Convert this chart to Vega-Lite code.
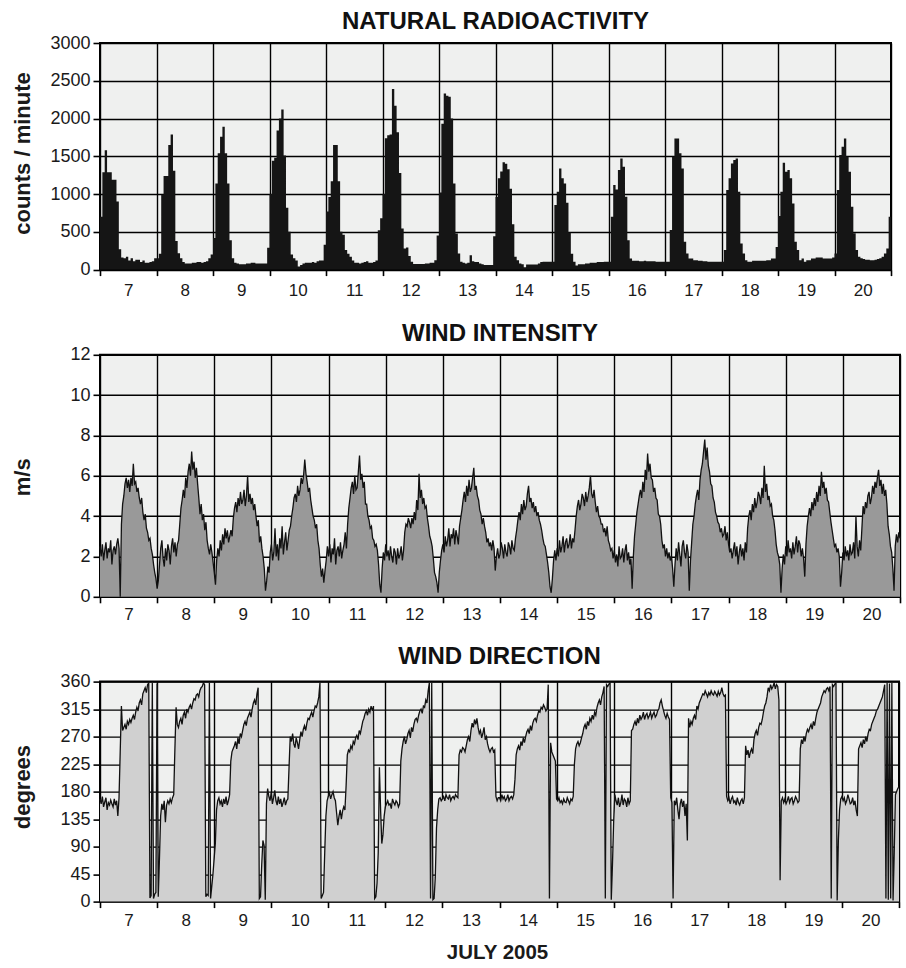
{
 "$schema": "https://vega.github.io/schema/vega-lite/v6.json",
 "background": "#ffffff",
 "padding": {"left": 10, "top": 9, "right": 5, "bottom": 5},
 "spacing": 84.8,
 "bounds": "flush",
 "config": {
  "font": "Liberation Sans",
  "view": {"fill": "#eff0ef", "stroke": "#000000", "strokeWidth": 2},
  "axis": {"domain": false, "grid": true, "gridColor": "#000000", "gridWidth": 1.4, "gridOpacity": 1, "tickColor": "#000000", "tickWidth": 1.6, "labelColor": "#1a1a1a", "labelFont": "Liberation Sans", "titleFont": "Liberation Sans", "titleColor": "#1a1a1a", "titleFontWeight": "bold", "titleFontSize": 22},
  "axisX": {"tickSize": 6, "labelFontSize": 17, "labelFlush": false, "labelOverlap": false},
  "axisY": {"tickSize": 7, "labelFontSize": 18, "labelPadding": 3, "labelFlush": false, "labelOverlap": false},
  "title": {"font": "Liberation Sans", "fontSize": 24, "fontWeight": "bold", "color": "#111111", "anchor": "middle", "frame": "group", "baseline": "alphabetic"}
 },
 "datasets": {
  "rad": [
{"h":0,"r":700},{"h":1,"r":1290},{"h":2,"r":1580},{"h":3,"r":1290},{"h":4,"r":1290},{"h":5,"r":1190},{"h":6,"r":1190},{"h":7,"r":900},{"h":8,"r":270},{"h":9,"r":160},{"h":10,"r":150},{"h":11,"r":170},{"h":12,"r":120},{"h":13,"r":150},{"h":14,"r":110},{"h":15,"r":130},{"h":16,"r":130},{"h":17,"r":100},{"h":18,"r":120},{"h":19,"r":90},{"h":20,"r":90},{"h":21,"r":100},{"h":22,"r":110},{"h":23,"r":150},
{"h":24,"r":150},{"h":25,"r":210},{"h":26,"r":990},{"h":27,"r":1240},{"h":28,"r":1240},{"h":29,"r":1650},{"h":30,"r":1790},{"h":31,"r":1310},{"h":32,"r":380},{"h":33,"r":215},{"h":34,"r":150},{"h":35,"r":100},{"h":36,"r":80},{"h":37,"r":80},{"h":38,"r":80},{"h":39,"r":90},{"h":40,"r":90},{"h":41,"r":100},{"h":42,"r":100},{"h":43,"r":90},{"h":44,"r":100},{"h":45,"r":110},{"h":46,"r":150},{"h":47,"r":200},
{"h":48,"r":420},{"h":49,"r":1140},{"h":50,"r":1540},{"h":51,"r":1760},{"h":52,"r":1890},{"h":53,"r":1540},{"h":54,"r":1140},{"h":55,"r":390},{"h":56,"r":150},{"h":57,"r":90},{"h":58,"r":80},{"h":59,"r":70},{"h":60,"r":70},{"h":61,"r":70},{"h":62,"r":80},{"h":63,"r":80},{"h":64,"r":90},{"h":65,"r":90},{"h":66,"r":80},{"h":67,"r":80},{"h":68,"r":80},{"h":69,"r":80},{"h":70,"r":80},{"h":71,"r":290},
{"h":72,"r":1000},{"h":73,"r":1440},{"h":74,"r":1480},{"h":75,"r":1840},{"h":76,"r":2000},{"h":77,"r":2120},{"h":78,"r":1510},{"h":79,"r":820},{"h":80,"r":500},{"h":81,"r":200},{"h":82,"r":150},{"h":83,"r":120},{"h":84,"r":40},{"h":85,"r":60},{"h":86,"r":80},{"h":87,"r":90},{"h":88,"r":90},{"h":89,"r":90},{"h":90,"r":100},{"h":91,"r":90},{"h":92,"r":110},{"h":93,"r":120},{"h":94,"r":120},{"h":95,"r":330},
{"h":96,"r":770},{"h":97,"r":960},{"h":98,"r":1170},{"h":99,"r":1650},{"h":100,"r":1650},{"h":101,"r":1170},{"h":102,"r":500},{"h":103,"r":460},{"h":104,"r":260},{"h":105,"r":210},{"h":106,"r":170},{"h":107,"r":120},{"h":108,"r":90},{"h":109,"r":90},{"h":110,"r":80},{"h":111,"r":90},{"h":112,"r":100},{"h":113,"r":110},{"h":114,"r":90},{"h":115,"r":90},{"h":116,"r":100},{"h":117,"r":120},{"h":118,"r":520},{"h":119,"r":680},
{"h":120,"r":1000},{"h":121,"r":1740},{"h":122,"r":1780},{"h":123,"r":1790},{"h":124,"r":2390},{"h":125,"r":2170},{"h":126,"r":1820},{"h":127,"r":1280},{"h":128,"r":545},{"h":129,"r":280},{"h":130,"r":294},{"h":131,"r":180},{"h":132,"r":104},{"h":133,"r":73},{"h":134,"r":73},{"h":135,"r":73},{"h":136,"r":73},{"h":137,"r":73},{"h":138,"r":80},{"h":139,"r":80},{"h":140,"r":90},{"h":141,"r":90},{"h":142,"r":125},{"h":143,"r":450},
{"h":144,"r":1020},{"h":145,"r":1930},{"h":146,"r":2330},{"h":147,"r":2300},{"h":148,"r":2290},{"h":149,"r":2002},{"h":150,"r":1141},{"h":151,"r":479},{"h":152,"r":214},{"h":153,"r":104},{"h":154,"r":90},{"h":155,"r":80},{"h":156,"r":90},{"h":157,"r":190},{"h":158,"r":110},{"h":159,"r":100},{"h":160,"r":100},{"h":161,"r":80},{"h":162,"r":70},{"h":163,"r":60},{"h":164,"r":60},{"h":165,"r":60},{"h":166,"r":60},{"h":167,"r":440},
{"h":168,"r":960},{"h":169,"r":1210},{"h":170,"r":1300},{"h":171,"r":1420},{"h":172,"r":1400},{"h":173,"r":1330},{"h":174,"r":1070},{"h":175,"r":600},{"h":176,"r":170},{"h":177,"r":125},{"h":178,"r":81},{"h":179,"r":72},{"h":180,"r":30},{"h":181,"r":68},{"h":182,"r":68},{"h":183,"r":68},{"h":184,"r":68},{"h":185,"r":68},{"h":186,"r":80},{"h":187,"r":100},{"h":188,"r":104},{"h":189,"r":104},{"h":190,"r":104},{"h":191,"r":104},
{"h":192,"r":104},{"h":193,"r":854},{"h":194,"r":1030},{"h":195,"r":1340},{"h":196,"r":1208},{"h":197,"r":1141},{"h":198,"r":885},{"h":199,"r":490},{"h":200,"r":210},{"h":201,"r":104},{"h":202,"r":55},{"h":203,"r":70},{"h":204,"r":70},{"h":205,"r":70},{"h":206,"r":80},{"h":207,"r":80},{"h":208,"r":90},{"h":209,"r":90},{"h":210,"r":90},{"h":211,"r":100},{"h":212,"r":100},{"h":213,"r":100},{"h":214,"r":104},{"h":215,"r":104},
{"h":216,"r":104},{"h":217,"r":700},{"h":218,"r":1120},{"h":219,"r":1060},{"h":220,"r":1318},{"h":221,"r":1472},{"h":222,"r":1362},{"h":223,"r":965},{"h":224,"r":390},{"h":225,"r":148},{"h":226,"r":117},{"h":227,"r":117},{"h":228,"r":117},{"h":229,"r":110},{"h":230,"r":110},{"h":231,"r":117},{"h":232,"r":110},{"h":233,"r":110},{"h":234,"r":110},{"h":235,"r":110},{"h":236,"r":104},{"h":237,"r":104},{"h":238,"r":104},{"h":239,"r":104},
{"h":240,"r":104},{"h":241,"r":104},{"h":242,"r":523},{"h":243,"r":1494},{"h":244,"r":1737},{"h":245,"r":1737},{"h":246,"r":1540},{"h":247,"r":1340},{"h":248,"r":368},{"h":249,"r":214},{"h":250,"r":148},{"h":251,"r":148},{"h":252,"r":125},{"h":253,"r":125},{"h":254,"r":117},{"h":255,"r":117},{"h":256,"r":110},{"h":257,"r":110},{"h":258,"r":104},{"h":259,"r":104},{"h":260,"r":104},{"h":261,"r":104},{"h":262,"r":104},{"h":263,"r":104},
{"h":264,"r":104},{"h":265,"r":258},{"h":266,"r":1053},{"h":267,"r":1208},{"h":268,"r":1406},{"h":269,"r":1450},{"h":270,"r":1472},{"h":271,"r":1031},{"h":272,"r":346},{"h":273,"r":214},{"h":274,"r":125},{"h":275,"r":104},{"h":276,"r":104},{"h":277,"r":117},{"h":278,"r":117},{"h":279,"r":117},{"h":280,"r":117},{"h":281,"r":117},{"h":282,"r":117},{"h":283,"r":125},{"h":284,"r":125},{"h":285,"r":148},{"h":286,"r":148},{"h":287,"r":300},
{"h":288,"r":708},{"h":289,"r":1031},{"h":290,"r":1415},{"h":291,"r":1296},{"h":292,"r":1318},{"h":293,"r":1208},{"h":294,"r":876},{"h":295,"r":368},{"h":296,"r":258},{"h":297,"r":125},{"h":298,"r":148},{"h":299,"r":104},{"h":300,"r":125},{"h":301,"r":125},{"h":302,"r":148},{"h":303,"r":148},{"h":304,"r":160},{"h":305,"r":160},{"h":306,"r":160},{"h":307,"r":148},{"h":308,"r":148},{"h":309,"r":148},{"h":310,"r":148},{"h":311,"r":160},
{"h":312,"r":214},{"h":313,"r":1053},{"h":314,"r":1517},{"h":315,"r":1627},{"h":316,"r":1737},{"h":317,"r":1494},{"h":318,"r":1296},{"h":319,"r":832},{"h":320,"r":480},{"h":321,"r":260},{"h":322,"r":170},{"h":323,"r":150},{"h":324,"r":140},{"h":325,"r":130},{"h":326,"r":130},{"h":327,"r":125},{"h":328,"r":125},{"h":329,"r":130},{"h":330,"r":140},{"h":331,"r":150},{"h":332,"r":170},{"h":333,"r":214},{"h":334,"r":280},{"h":335,"r":700},{"h":336,"r":700}
  ],
  "wind": [
{"h":0,"w":2.5,"d":168},{"h":0.5,"w":2.0,"d":160},{"h":1,"w":2.6,"d":172},{"h":1.5,"w":1.8,"d":155},{"h":2,"w":2.3,"d":163},{"h":2.5,"w":2.7,"d":170},{"h":3,"w":1.9,"d":150},{"h":3.5,"w":2.4,"d":162},{"h":4,"w":2.2,"d":158},{"h":4.5,"w":2.8,"d":166},{"h":5,"w":1.6,"d":160},{"h":5.5,"w":2.3,"d":155},{"h":6,"w":2.5,"d":168},{"h":6.5,"w":2.1,"d":158},{"h":7,"w":2.6,"d":165},{"h":7.5,"w":2.9,"d":140},{"h":8,"w":2.4,"d":170},{"h":8.5,"w":0.0,"d":245},{"h":9,"w":3.6,"d":320},{"h":9.5,"w":4.6,"d":280},{"h":10,"w":5.0,"d":285},{"h":10.5,"w":5.6,"d":290},{"h":11,"w":5.9,"d":282},{"h":11.5,"w":5.4,"d":295},{"h":12,"w":5.8,"d":290},{"h":12.5,"w":5.2,"d":298},{"h":13,"w":5.9,"d":293},{"h":13.5,"w":5.5,"d":300},{"h":14,"w":6.6,"d":305},{"h":14.5,"w":5.6,"d":298},{"h":15,"w":5.7,"d":310},{"h":15.5,"w":5.2,"d":318},{"h":16,"w":5.4,"d":312},{"h":16.5,"w":4.9,"d":325},{"h":17,"w":4.6,"d":330},{"h":17.5,"w":4.9,"d":322},{"h":18,"w":4.2,"d":340},{"h":18.5,"w":3.8,"d":345},{"h":19,"w":4.1,"d":350},{"h":19.5,"w":3.4,"d":342},{"h":20,"w":3.2,"d":355},{"h":20.5,"w":2.8,"d":358},{"h":21,"w":2.9,"d":6},{"h":21.5,"w":2.4,"d":10},{"h":22,"w":2.1,"d":358},{"h":22.5,"w":1.6,"d":5},{"h":23,"w":1.2,"d":12},{"h":23.5,"w":0.9,"d":15},
{"h":24,"w":0.4,"d":357},{"h":24.5,"w":0.8,"d":8},{"h":25,"w":1.6,"d":70},{"h":25.5,"w":2.4,"d":140},{"h":26,"w":2.8,"d":160},{"h":26.5,"w":1.9,"d":150},{"h":27,"w":1.5,"d":165},{"h":27.5,"w":2.4,"d":130},{"h":28,"w":1.8,"d":158},{"h":28.5,"w":2.6,"d":165},{"h":29,"w":2.3,"d":160},{"h":29.5,"w":1.6,"d":168},{"h":30,"w":2.5,"d":162},{"h":30.5,"w":2.9,"d":170},{"h":31,"w":2.2,"d":175},{"h":31.5,"w":2.7,"d":250},{"h":32,"w":2.0,"d":318},{"h":32.5,"w":2.6,"d":290},{"h":33,"w":2.8,"d":285},{"h":33.5,"w":3.6,"d":295},{"h":34,"w":4.4,"d":300},{"h":34.5,"w":4.8,"d":290},{"h":35,"w":5.3,"d":305},{"h":35.5,"w":4.9,"d":310},{"h":36,"w":5.9,"d":300},{"h":36.5,"w":5.4,"d":315},{"h":37,"w":6.2,"d":310},{"h":37.5,"w":6.6,"d":318},{"h":38,"w":6.0,"d":322},{"h":38.5,"w":7.2,"d":315},{"h":39,"w":6.3,"d":325},{"h":39.5,"w":6.7,"d":332},{"h":40,"w":5.9,"d":330},{"h":40.5,"w":6.4,"d":338},{"h":41,"w":5.6,"d":340},{"h":41.5,"w":4.9,"d":335},{"h":42,"w":4.1,"d":345},{"h":42.5,"w":4.6,"d":350},{"h":43,"w":3.8,"d":352},{"h":43.5,"w":4.1,"d":358},{"h":44,"w":3.3,"d":355},{"h":44.5,"w":3.7,"d":8},{"h":45,"w":2.8,"d":12},{"h":45.5,"w":2.4,"d":10},{"h":46,"w":2.1,"d":358},{"h":46.5,"w":2.6,"d":5},{"h":47,"w":2.2,"d":25},{"h":47.5,"w":1.7,"d":45},
{"h":48,"w":1.2,"d":70},{"h":48.5,"w":0.6,"d":95},{"h":49,"w":1.8,"d":150},{"h":49.5,"w":2.4,"d":165},{"h":50,"w":2.0,"d":170},{"h":50.5,"w":2.8,"d":160},{"h":51,"w":2.3,"d":165},{"h":51.5,"w":3.1,"d":155},{"h":52,"w":2.6,"d":168},{"h":52.5,"w":3.4,"d":160},{"h":53,"w":2.9,"d":172},{"h":53.5,"w":3.3,"d":158},{"h":54,"w":2.7,"d":165},{"h":54.5,"w":3.0,"d":175},{"h":55,"w":3.3,"d":230},{"h":55.5,"w":3.0,"d":245},{"h":56,"w":3.9,"d":250},{"h":56.5,"w":4.4,"d":255},{"h":57,"w":4.7,"d":262},{"h":57.5,"w":4.2,"d":250},{"h":58,"w":4.9,"d":268},{"h":58.5,"w":4.5,"d":258},{"h":59,"w":5.2,"d":275},{"h":59.5,"w":4.6,"d":270},{"h":60,"w":4.8,"d":280},{"h":60.5,"w":5.3,"d":290},{"h":61,"w":4.5,"d":295},{"h":61.5,"w":5.0,"d":288},{"h":62,"w":6.0,"d":300},{"h":62.5,"w":4.7,"d":305},{"h":63,"w":5.1,"d":310},{"h":63.5,"w":4.6,"d":302},{"h":64,"w":4.9,"d":315},{"h":64.5,"w":4.3,"d":325},{"h":65,"w":4.6,"d":330},{"h":65.5,"w":4.0,"d":322},{"h":66,"w":3.5,"d":340},{"h":66.5,"w":3.8,"d":350},{"h":67,"w":2.7,"d":5},{"h":67.5,"w":3.0,"d":8},{"h":68,"w":2.4,"d":60},{"h":68.5,"w":2.0,"d":100},{"h":69,"w":1.4,"d":92},{"h":69.5,"w":0.3,"d":3},{"h":70,"w":0.8,"d":160},{"h":70.5,"w":1.5,"d":185},{"h":71,"w":1.2,"d":172},{"h":71.5,"w":2.2,"d":165},
{"h":72,"w":2.6,"d":178},{"h":72.5,"w":1.8,"d":160},{"h":73,"w":2.2,"d":170},{"h":73.5,"w":3.4,"d":182},{"h":74,"w":2.0,"d":165},{"h":74.5,"w":2.6,"d":158},{"h":75,"w":1.8,"d":172},{"h":75.5,"w":2.9,"d":160},{"h":76,"w":2.4,"d":168},{"h":76.5,"w":3.5,"d":155},{"h":77,"w":2.1,"d":162},{"h":77.5,"w":2.7,"d":170},{"h":78,"w":3.2,"d":158},{"h":78.5,"w":2.3,"d":165},{"h":79,"w":2.8,"d":168},{"h":79.5,"w":3.3,"d":220},{"h":80,"w":3.5,"d":270},{"h":80.5,"w":4.0,"d":262},{"h":81,"w":4.4,"d":275},{"h":81.5,"w":4.9,"d":258},{"h":82,"w":5.1,"d":252},{"h":82.5,"w":4.7,"d":268},{"h":83,"w":5.5,"d":260},{"h":83.5,"w":5.0,"d":250},{"h":84,"w":5.3,"d":265},{"h":84.5,"w":5.9,"d":278},{"h":85,"w":5.6,"d":270},{"h":85.5,"w":6.0,"d":282},{"h":86,"w":6.8,"d":288},{"h":86.5,"w":6.1,"d":280},{"h":87,"w":5.7,"d":292},{"h":87.5,"w":5.2,"d":300},{"h":88,"w":5.4,"d":298},{"h":88.5,"w":4.8,"d":305},{"h":89,"w":4.4,"d":310},{"h":89.5,"w":4.0,"d":302},{"h":90,"w":3.8,"d":312},{"h":90.5,"w":3.4,"d":320},{"h":91,"w":3.6,"d":318},{"h":91.5,"w":2.8,"d":325},{"h":92,"w":2.4,"d":335},{"h":92.5,"w":1.6,"d":358},{"h":93,"w":1.0,"d":5},{"h":93.5,"w":1.4,"d":10},{"h":94,"w":0.7,"d":15},{"h":94.5,"w":1.3,"d":80},{"h":95,"w":1.8,"d":140},{"h":95.5,"w":2.5,"d":165},
{"h":96,"w":2.0,"d":172},{"h":96.5,"w":2.6,"d":178},{"h":97,"w":1.7,"d":168},{"h":97.5,"w":2.4,"d":175},{"h":98,"w":2.1,"d":180},{"h":98.5,"w":2.9,"d":170},{"h":99,"w":1.6,"d":165},{"h":99.5,"w":2.3,"d":145},{"h":100,"w":2.5,"d":125},{"h":100.5,"w":2.0,"d":140},{"h":101,"w":2.7,"d":150},{"h":101.5,"w":1.9,"d":135},{"h":102,"w":2.3,"d":148},{"h":102.5,"w":2.6,"d":155},{"h":103,"w":3.2,"d":150},{"h":103.5,"w":2.4,"d":190},{"h":104,"w":3.6,"d":240},{"h":104.5,"w":4.4,"d":248},{"h":105,"w":4.9,"d":245},{"h":105.5,"w":5.4,"d":255},{"h":106,"w":5.7,"d":250},{"h":106.5,"w":5.1,"d":262},{"h":107,"w":6.0,"d":258},{"h":107.5,"w":5.3,"d":268},{"h":108,"w":5.4,"d":272},{"h":108.5,"w":6.2,"d":265},{"h":109,"w":7.0,"d":280},{"h":109.5,"w":5.8,"d":275},{"h":110,"w":6.1,"d":285},{"h":110.5,"w":5.4,"d":295},{"h":111,"w":5.7,"d":300},{"h":111.5,"w":4.6,"d":308},{"h":112,"w":4.6,"d":312},{"h":112.5,"w":4.0,"d":305},{"h":113,"w":3.8,"d":315},{"h":113.5,"w":3.4,"d":310},{"h":114,"w":3.5,"d":320},{"h":114.5,"w":2.9,"d":312},{"h":115,"w":2.8,"d":320},{"h":115.5,"w":2.5,"d":5},{"h":116,"w":2.6,"d":8},{"h":116.5,"w":2.3,"d":30},{"h":117,"w":1.6,"d":80},{"h":117.5,"w":0.6,"d":220},{"h":118,"w":0.2,"d":150},{"h":118.5,"w":1.4,"d":95},{"h":119,"w":2.2,"d":110},{"h":119.5,"w":1.8,"d":140},
{"h":120,"w":2.6,"d":155},{"h":120.5,"w":2.0,"d":160},{"h":121,"w":2.3,"d":165},{"h":121.5,"w":1.8,"d":158},{"h":122,"w":2.5,"d":160},{"h":122.5,"w":2.0,"d":152},{"h":123,"w":1.7,"d":168},{"h":123.5,"w":2.4,"d":162},{"h":124,"w":2.2,"d":158},{"h":124.5,"w":1.6,"d":165},{"h":125,"w":2.4,"d":162},{"h":125.5,"w":1.9,"d":155},{"h":126,"w":2.1,"d":160},{"h":126.5,"w":2.5,"d":230},{"h":127,"w":1.8,"d":250},{"h":127.5,"w":2.3,"d":262},{"h":128,"w":3.2,"d":270},{"h":128.5,"w":3.6,"d":258},{"h":129,"w":3.5,"d":265},{"h":129.5,"w":3.9,"d":275},{"h":130,"w":3.7,"d":280},{"h":130.5,"w":3.4,"d":268},{"h":131,"w":3.9,"d":285},{"h":131.5,"w":3.6,"d":278},{"h":132,"w":4.2,"d":290},{"h":132.5,"w":3.8,"d":298},{"h":133,"w":4.8,"d":300},{"h":133.5,"w":4.3,"d":295},{"h":134,"w":6.1,"d":305},{"h":134.5,"w":4.9,"d":312},{"h":135,"w":5.3,"d":315},{"h":135.5,"w":4.6,"d":308},{"h":136,"w":4.9,"d":320},{"h":136.5,"w":4.4,"d":318},{"h":137,"w":4.5,"d":330},{"h":137.5,"w":3.9,"d":325},{"h":138,"w":3.5,"d":345},{"h":138.5,"w":3.0,"d":358},{"h":139,"w":2.8,"d":5},{"h":139.5,"w":2.5,"d":358},{"h":140,"w":1.9,"d":3},{"h":140.5,"w":1.2,"d":5},{"h":141,"w":1.0,"d":40},{"h":141.5,"w":0.7,"d":120},{"h":142,"w":0.2,"d":150},{"h":142.5,"w":1.2,"d":168},{"h":143,"w":1.8,"d":170},{"h":143.5,"w":2.3,"d":165},
{"h":144,"w":2.6,"d":168},{"h":144.5,"w":2.2,"d":172},{"h":145,"w":3.0,"d":165},{"h":145.5,"w":2.5,"d":175},{"h":146,"w":2.8,"d":170},{"h":146.5,"w":3.4,"d":168},{"h":147,"w":2.5,"d":175},{"h":147.5,"w":3.1,"d":165},{"h":148,"w":2.9,"d":170},{"h":148.5,"w":3.4,"d":172},{"h":149,"w":2.6,"d":168},{"h":149.5,"w":3.3,"d":175},{"h":150,"w":3.0,"d":172},{"h":150.5,"w":2.6,"d":170},{"h":151,"w":3.5,"d":240},{"h":151.5,"w":3.9,"d":248},{"h":152,"w":4.3,"d":245},{"h":152.5,"w":4.8,"d":252},{"h":153,"w":5.2,"d":250},{"h":153.5,"w":4.7,"d":245},{"h":154,"w":5.5,"d":255},{"h":154.5,"w":5.0,"d":265},{"h":155,"w":5.8,"d":270},{"h":155.5,"w":5.2,"d":262},{"h":156,"w":5.4,"d":280},{"h":156.5,"w":5.9,"d":292},{"h":157,"w":6.4,"d":285},{"h":157.5,"w":5.3,"d":298},{"h":158,"w":5.5,"d":290},{"h":158.5,"w":5.0,"d":300},{"h":159,"w":4.8,"d":285},{"h":159.5,"w":4.3,"d":275},{"h":160,"w":4.1,"d":280},{"h":160.5,"w":3.6,"d":268},{"h":161,"w":3.9,"d":275},{"h":161.5,"w":3.5,"d":285},{"h":162,"w":3.2,"d":265},{"h":162.5,"w":2.7,"d":270},{"h":163,"w":2.9,"d":258},{"h":163.5,"w":2.5,"d":250},{"h":164,"w":2.7,"d":245},{"h":164.5,"w":2.3,"d":250},{"h":165,"w":2.8,"d":252},{"h":165.5,"w":2.4,"d":245},{"h":166,"w":1.3,"d":248},{"h":166.5,"w":2.0,"d":172},{"h":167,"w":2.4,"d":165},{"h":167.5,"w":1.9,"d":170},
{"h":168,"w":2.1,"d":170},{"h":168.5,"w":2.7,"d":165},{"h":169,"w":2.4,"d":175},{"h":169.5,"w":1.9,"d":168},{"h":170,"w":2.6,"d":172},{"h":170.5,"w":2.2,"d":165},{"h":171,"w":2.0,"d":168},{"h":171.5,"w":2.7,"d":175},{"h":172,"w":2.5,"d":165},{"h":172.5,"w":2.1,"d":170},{"h":173,"w":2.8,"d":172},{"h":173.5,"w":2.4,"d":168},{"h":174,"w":2.3,"d":175},{"h":174.5,"w":2.9,"d":200},{"h":175,"w":3.3,"d":240},{"h":175.5,"w":3.8,"d":250},{"h":176,"w":4.2,"d":255},{"h":176.5,"w":3.8,"d":248},{"h":177,"w":4.6,"d":262},{"h":177.5,"w":4.1,"d":255},{"h":178,"w":4.8,"d":268},{"h":178.5,"w":4.3,"d":260},{"h":179,"w":4.5,"d":270},{"h":179.5,"w":5.1,"d":278},{"h":180,"w":5.5,"d":282},{"h":180.5,"w":4.7,"d":275},{"h":181,"w":4.9,"d":288},{"h":181.5,"w":4.4,"d":280},{"h":182,"w":4.7,"d":292},{"h":182.5,"w":4.2,"d":298},{"h":183,"w":4.5,"d":300},{"h":183.5,"w":4.0,"d":295},{"h":184,"w":4.2,"d":305},{"h":184.5,"w":3.8,"d":312},{"h":185,"w":3.6,"d":310},{"h":185.5,"w":3.3,"d":318},{"h":186,"w":2.9,"d":315},{"h":186.5,"w":2.6,"d":322},{"h":187,"w":2.5,"d":318},{"h":187.5,"w":2.1,"d":312},{"h":188,"w":1.7,"d":315},{"h":188.5,"w":1.2,"d":355},{"h":189,"w":0.5,"d":5},{"h":189.5,"w":0.2,"d":260},{"h":190,"w":0.9,"d":245},{"h":190.5,"w":1.8,"d":240},{"h":191,"w":2.3,"d":235},{"h":191.5,"w":1.8,"d":230},
{"h":192,"w":2.4,"d":168},{"h":192.5,"w":2.0,"d":165},{"h":193,"w":2.8,"d":170},{"h":193.5,"w":2.2,"d":162},{"h":194,"w":2.5,"d":165},{"h":194.5,"w":3.0,"d":160},{"h":195,"w":2.2,"d":168},{"h":195.5,"w":2.7,"d":163},{"h":196,"w":2.9,"d":162},{"h":196.5,"w":2.4,"d":170},{"h":197,"w":2.6,"d":165},{"h":197.5,"w":3.1,"d":160},{"h":198,"w":2.4,"d":168},{"h":198.5,"w":2.9,"d":165},{"h":199,"w":2.7,"d":172},{"h":199.5,"w":3.3,"d":225},{"h":200,"w":4.0,"d":250},{"h":200.5,"w":4.5,"d":258},{"h":201,"w":4.8,"d":262},{"h":201.5,"w":4.3,"d":255},{"h":202,"w":4.6,"d":260},{"h":202.5,"w":5.1,"d":268},{"h":203,"w":4.9,"d":275},{"h":203.5,"w":4.5,"d":285},{"h":204,"w":5.2,"d":290},{"h":204.5,"w":4.7,"d":282},{"h":205,"w":5.0,"d":295},{"h":205.5,"w":5.4,"d":288},{"h":206,"w":6.0,"d":300},{"h":206.5,"w":5.1,"d":295},{"h":207,"w":4.9,"d":305},{"h":207.5,"w":5.3,"d":298},{"h":208,"w":4.7,"d":310},{"h":208.5,"w":4.2,"d":305},{"h":209,"w":4.5,"d":318},{"h":209.5,"w":4.0,"d":325},{"h":210,"w":3.9,"d":330},{"h":210.5,"w":3.6,"d":322},{"h":211,"w":3.6,"d":335},{"h":211.5,"w":3.2,"d":342},{"h":212,"w":3.4,"d":352},{"h":212.5,"w":3.0,"d":5},{"h":213,"w":3.5,"d":355},{"h":213.5,"w":2.8,"d":352},{"h":214,"w":2.6,"d":356},{"h":214.5,"w":2.3,"d":358},{"h":215,"w":2.4,"d":3},{"h":215.5,"w":1.9,"d":60},
{"h":216,"w":2.3,"d":130},{"h":216.5,"w":1.7,"d":175},{"h":217,"w":2.1,"d":165},{"h":217.5,"w":1.5,"d":158},{"h":218,"w":2.5,"d":170},{"h":218.5,"w":1.9,"d":155},{"h":219,"w":2.0,"d":162},{"h":219.5,"w":2.4,"d":175},{"h":220,"w":1.7,"d":158},{"h":220.5,"w":2.3,"d":168},{"h":221,"w":2.6,"d":165},{"h":221.5,"w":1.8,"d":155},{"h":222,"w":2.2,"d":170},{"h":222.5,"w":1.6,"d":160},{"h":223,"w":1.9,"d":165},{"h":223.5,"w":0.4,"d":280},{"h":224,"w":2.0,"d":282},{"h":224.5,"w":3.0,"d":290},{"h":225,"w":3.6,"d":295},{"h":225.5,"w":4.2,"d":288},{"h":226,"w":4.6,"d":300},{"h":226.5,"w":5.0,"d":292},{"h":227,"w":5.3,"d":305},{"h":227.5,"w":4.9,"d":298},{"h":228,"w":5.7,"d":302},{"h":228.5,"w":5.2,"d":310},{"h":229,"w":6.3,"d":298},{"h":229.5,"w":5.8,"d":305},{"h":230,"w":7.1,"d":308},{"h":230.5,"w":6.2,"d":300},{"h":231,"w":6.6,"d":304},{"h":231.5,"w":5.9,"d":310},{"h":232,"w":5.8,"d":300},{"h":232.5,"w":5.2,"d":306},{"h":233,"w":5.4,"d":310},{"h":233.5,"w":4.9,"d":302},{"h":234,"w":4.8,"d":305},{"h":234.5,"w":4.1,"d":312},{"h":235,"w":4.0,"d":315},{"h":235.5,"w":3.6,"d":325},{"h":236,"w":2.8,"d":330},{"h":236.5,"w":2.4,"d":320},{"h":237,"w":2.6,"d":312},{"h":237.5,"w":2.0,"d":305},{"h":238,"w":2.4,"d":300},{"h":238.5,"w":1.9,"d":308},{"h":239,"w":2.2,"d":302},{"h":239.5,"w":1.8,"d":298},
{"h":240,"w":2.0,"d":170},{"h":240.5,"w":1.4,"d":162},{"h":241,"w":0.5,"d":5},{"h":241.5,"w":1.6,"d":165},{"h":242,"w":2.4,"d":158},{"h":242.5,"w":1.8,"d":170},{"h":243,"w":2.7,"d":150},{"h":243.5,"w":2.1,"d":135},{"h":244,"w":1.5,"d":160},{"h":244.5,"w":2.5,"d":168},{"h":245,"w":2.8,"d":155},{"h":245.5,"w":2.2,"d":165},{"h":246,"w":1.9,"d":140},{"h":246.5,"w":2.6,"d":160},{"h":247,"w":2.2,"d":100},{"h":247.5,"w":0.3,"d":300},{"h":248,"w":1.8,"d":285},{"h":248.5,"w":2.7,"d":295},{"h":249,"w":3.6,"d":290},{"h":249.5,"w":4.0,"d":300},{"h":250,"w":4.6,"d":305},{"h":250.5,"w":5.0,"d":298},{"h":251,"w":5.3,"d":320},{"h":251.5,"w":4.8,"d":315},{"h":252,"w":5.8,"d":325},{"h":252.5,"w":6.3,"d":330},{"h":253,"w":6.6,"d":335},{"h":253.5,"w":7.2,"d":340},{"h":254,"w":7.8,"d":338},{"h":254.5,"w":6.8,"d":345},{"h":255,"w":7.4,"d":340},{"h":255.5,"w":6.5,"d":335},{"h":256,"w":6.2,"d":342},{"h":256.5,"w":5.6,"d":338},{"h":257,"w":5.5,"d":345},{"h":257.5,"w":4.9,"d":340},{"h":258,"w":4.7,"d":338},{"h":258.5,"w":4.2,"d":344},{"h":259,"w":4.0,"d":340},{"h":259.5,"w":3.7,"d":336},{"h":260,"w":3.6,"d":344},{"h":260.5,"w":3.2,"d":338},{"h":261,"w":3.4,"d":342},{"h":261.5,"w":3.0,"d":350},{"h":262,"w":3.1,"d":340},{"h":262.5,"w":3.5,"d":336},{"h":263,"w":2.8,"d":338},{"h":263.5,"w":3.2,"d":172},
{"h":264,"w":2.6,"d":165},{"h":264.5,"w":2.2,"d":170},{"h":265,"w":2.4,"d":160},{"h":265.5,"w":1.9,"d":168},{"h":266,"w":2.3,"d":172},{"h":266.5,"w":2.7,"d":162},{"h":267,"w":2.0,"d":165},{"h":267.5,"w":2.5,"d":158},{"h":268,"w":1.6,"d":170},{"h":268.5,"w":2.2,"d":162},{"h":269,"w":2.6,"d":158},{"h":269.5,"w":2.0,"d":165},{"h":270,"w":2.4,"d":168},{"h":270.5,"w":1.8,"d":160},{"h":271,"w":2.7,"d":170},{"h":271.5,"w":2.2,"d":255},{"h":272,"w":3.4,"d":240},{"h":272.5,"w":4.0,"d":248},{"h":273,"w":4.3,"d":235},{"h":273.5,"w":3.8,"d":245},{"h":274,"w":4.6,"d":250},{"h":274.5,"w":4.2,"d":242},{"h":275,"w":4.9,"d":265},{"h":275.5,"w":4.4,"d":275},{"h":276,"w":4.7,"d":280},{"h":276.5,"w":5.2,"d":272},{"h":277,"w":5.0,"d":285},{"h":277.5,"w":4.6,"d":292},{"h":278,"w":5.4,"d":290},{"h":278.5,"w":4.9,"d":298},{"h":279,"w":6.5,"d":310},{"h":279.5,"w":5.2,"d":320},{"h":280,"w":5.6,"d":325},{"h":280.5,"w":4.8,"d":335},{"h":281,"w":5.0,"d":350},{"h":281.5,"w":4.5,"d":345},{"h":282,"w":4.6,"d":355},{"h":282.5,"w":4.0,"d":348},{"h":283,"w":3.8,"d":352},{"h":283.5,"w":3.3,"d":358},{"h":284,"w":2.6,"d":348},{"h":284.5,"w":2.2,"d":355},{"h":285,"w":2.0,"d":352},{"h":285.5,"w":1.6,"d":330},{"h":286,"w":0.2,"d":35},{"h":286.5,"w":1.4,"d":165},{"h":287,"w":2.1,"d":170},{"h":287.5,"w":1.6,"d":162},
{"h":288,"w":2.5,"d":168},{"h":288.5,"w":2.0,"d":160},{"h":289,"w":2.8,"d":165},{"h":289.5,"w":2.2,"d":172},{"h":290,"w":2.4,"d":162},{"h":290.5,"w":1.9,"d":168},{"h":291,"w":2.7,"d":170},{"h":291.5,"w":2.1,"d":160},{"h":292,"w":2.5,"d":165},{"h":292.5,"w":3.0,"d":172},{"h":293,"w":2.2,"d":168},{"h":293.5,"w":2.8,"d":162},{"h":294,"w":2.6,"d":165},{"h":294.5,"w":2.0,"d":250},{"h":295,"w":2.4,"d":265},{"h":295.5,"w":1.9,"d":258},{"h":296,"w":1.0,"d":270},{"h":296.5,"w":2.6,"d":262},{"h":297,"w":3.5,"d":275},{"h":297.5,"w":4.0,"d":282},{"h":298,"w":4.4,"d":278},{"h":298.5,"w":4.0,"d":285},{"h":299,"w":4.7,"d":290},{"h":299.5,"w":4.3,"d":282},{"h":300,"w":4.9,"d":295},{"h":300.5,"w":4.5,"d":288},{"h":301,"w":5.2,"d":300},{"h":301.5,"w":4.7,"d":310},{"h":302,"w":5.5,"d":315},{"h":302.5,"w":5.0,"d":320},{"h":303,"w":6.2,"d":325},{"h":303.5,"w":5.4,"d":335},{"h":304,"w":5.7,"d":340},{"h":304.5,"w":5.1,"d":345},{"h":305,"w":5.4,"d":342},{"h":305.5,"w":4.8,"d":348},{"h":306,"w":4.7,"d":350},{"h":306.5,"w":4.2,"d":345},{"h":307,"w":3.7,"d":352},{"h":307.5,"w":3.3,"d":5},{"h":308,"w":2.9,"d":355},{"h":308.5,"w":2.5,"d":352},{"h":309,"w":2.6,"d":356},{"h":309.5,"w":2.2,"d":358},{"h":310,"w":2.4,"d":2},{"h":310.5,"w":2.0,"d":100},{"h":311,"w":0.5,"d":150},{"h":311.5,"w":1.2,"d":168},
{"h":312,"w":2.2,"d":172},{"h":312.5,"w":1.8,"d":165},{"h":313,"w":2.5,"d":170},{"h":313.5,"w":2.0,"d":160},{"h":314,"w":2.3,"d":165},{"h":314.5,"w":1.8,"d":175},{"h":315,"w":2.6,"d":168},{"h":315.5,"w":2.1,"d":160},{"h":316,"w":2.2,"d":162},{"h":316.5,"w":2.7,"d":170},{"h":317,"w":1.9,"d":158},{"h":317.5,"w":4.0,"d":165},{"h":318,"w":2.5,"d":150},{"h":318.5,"w":2.0,"d":140},{"h":319,"w":2.8,"d":250},{"h":319.5,"w":2.3,"d":255},{"h":320,"w":3.4,"d":260},{"h":320.5,"w":4.5,"d":252},{"h":321,"w":4.1,"d":265},{"h":321.5,"w":4.7,"d":258},{"h":322,"w":4.4,"d":270},{"h":322.5,"w":5.0,"d":262},{"h":323,"w":5.2,"d":275},{"h":323.5,"w":4.6,"d":282},{"h":324,"w":4.9,"d":280},{"h":324.5,"w":5.5,"d":290},{"h":325,"w":5.1,"d":295},{"h":325.5,"w":5.7,"d":300},{"h":326,"w":5.4,"d":305},{"h":326.5,"w":5.9,"d":312},{"h":327,"w":6.3,"d":315},{"h":327.5,"w":5.5,"d":320},{"h":328,"w":5.8,"d":325},{"h":328.5,"w":5.1,"d":330},{"h":329,"w":5.6,"d":335},{"h":329.5,"w":5.0,"d":345},{"h":330,"w":5.3,"d":355},{"h":330.5,"w":4.6,"d":5},{"h":331,"w":3.5,"d":358},{"h":331.5,"w":3.1,"d":3},{"h":332,"w":2.5,"d":357},{"h":332.5,"w":2.2,"d":5},{"h":333,"w":1.4,"d":358},{"h":333.5,"w":0.3,"d":2},{"h":334,"w":2.5,"d":80},{"h":334.5,"w":3.1,"d":175},{"h":335,"w":2.7,"d":180},{"h":335.5,"w":3.2,"d":185},{"h":336,"w":2.9,"d":188}
  ]
 },
 "vconcat": [
  {
   "width": 791,
   "height": 226.6,
   "title": {"text": "NATURAL RADIOACTIVITY", "offset": 0},
   "data": {"name": "rad"},
   "mark": {"type": "area", "interpolate": "step-after", "color": "#151515"},
   "encoding": {
    "x": {"field": "h", "type": "quantitative", "scale": {"domain": [0, 336], "nice": false, "zero": false},
     "axis": {"title": null, "values": [0,24,48,72,96,120,144,168,192,216,240,264,288,312,336], "labelExpr": "datum.value < 336 ? datum.value / 24 + 7 : ''", "labelOffset": 28.25, "labelPadding": 6.7}},
    "y": {"field": "r", "type": "quantitative", "scale": {"domain": [0, 3000], "nice": false},
     "axis": {"title": "counts / minute", "values": [0,500,1000,1500,2000,2500,3000], "format": "d", "titleAngle": 270, "titleAlign": "center", "titleBaseline": "middle", "titleX": -78, "titleY": 110}}
   }
  },
  {
   "width": 800,
   "height": 242,
   "title": {"text": "WIND INTENSITY", "offset": 0},
   "data": {"name": "wind"},
   "encoding": {
    "x": {"field": "h", "type": "quantitative", "scale": {"domain": [0, 336], "nice": false, "zero": false},
     "axis": {"title": null, "values": [0,24,48,72,96,120,144,168,192,216,240,264,288,312,336], "labelExpr": "datum.value < 336 ? datum.value / 24 + 7 : ''", "labelOffset": 28.57, "labelPadding": 3.5}},
    "y": {"field": "w", "type": "quantitative", "scale": {"domain": [0, 12], "nice": false},
     "axis": {"title": "m/s", "values": [0,2,4,6,8,10,12], "format": "d", "titleAngle": 270, "titleAlign": "center", "titleBaseline": "middle", "titleX": -78, "titleY": 122}}
   },
   "layer": [
    {"mark": {"type": "area", "color": "#999999"}},
    {"mark": {"type": "line", "color": "#111111", "strokeWidth": 1.3}}
   ]
  },
  {
   "width": 799,
   "height": 220,
   "title": {"text": "WIND DIRECTION", "offset": 4},
   "data": {"name": "wind"},
   "encoding": {
    "x": {"field": "h", "type": "quantitative", "scale": {"domain": [0, 336], "nice": false, "zero": false},
     "axis": {"title": "JULY 2005", "titleFontSize": 20.5, "titleX": 397, "titleY": 56.6, "titleBaseline": "alphabetic", "titleAlign": "center", "values": [0,24,48,72,96,120,144,168,192,216,240,264,288,312,336], "labelExpr": "datum.value < 336 ? datum.value / 24 + 7 : ''", "labelOffset": 28.54, "labelPadding": 4.5}},
    "y": {"field": "d", "type": "quantitative", "scale": {"domain": [0, 360], "nice": false},
     "axis": {"title": "degrees", "values": [0,45,90,135,180,225,270,315,360], "format": "d", "titleAngle": 270, "titleAlign": "center", "titleBaseline": "middle", "titleX": -78, "titleY": 105}}
   },
   "layer": [
    {"mark": {"type": "area", "color": "#d0d0d0"}},
    {"mark": {"type": "line", "color": "#111111", "strokeWidth": 1.3}}
   ]
  }
 ]
}
